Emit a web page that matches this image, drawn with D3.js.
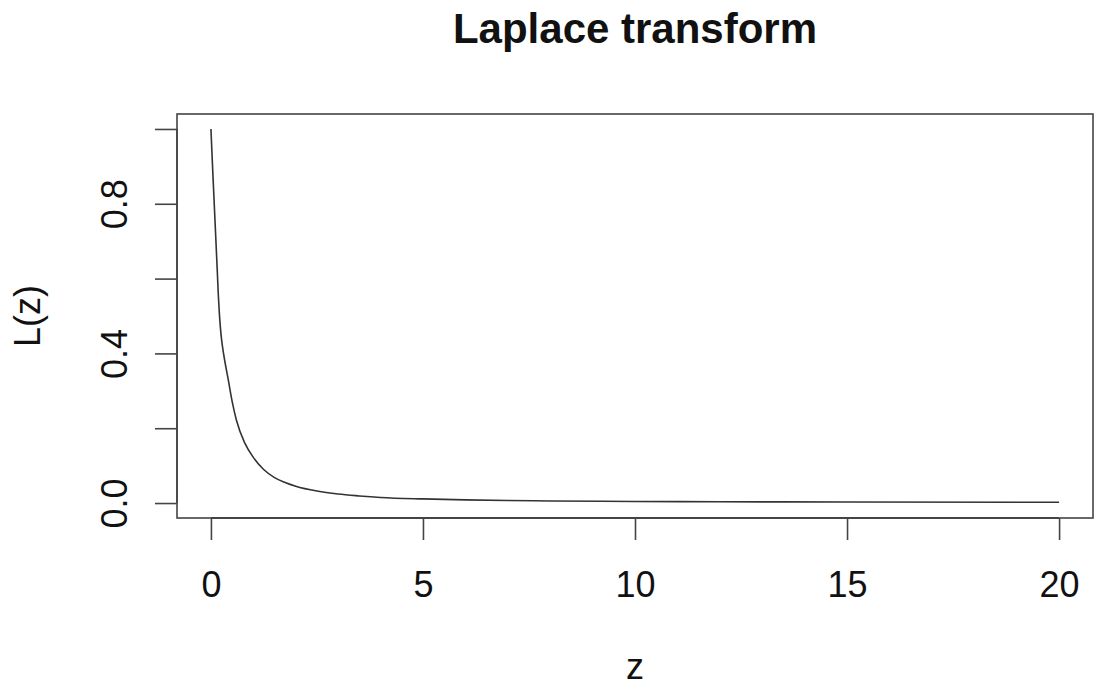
<!DOCTYPE html>
<html>
<head>
<meta charset="utf-8">
<script src="https://cdn.jsdelivr.net/npm/d3@7"></script>
<style>
  html, body { margin: 0; padding: 0; background: #fff; }
  svg { display: block; }
  text { font-family: "Liberation Sans", Arial, Helvetica, sans-serif; fill: #111; }
</style>
</head>
<body>
<svg id="chart" width="1094" height="688"></svg>
<script>
// Sampled points of the transform L(z)
const zValues = [0, 0.05, 0.1, 0.15, 0.175, 0.2, 0.225, 0.25, 0.3, 0.35, 0.4, 0.5, 0.6, 0.8, 1.0, 1.25, 1.5, 1.75, 2, 2.5, 3, 3.5, 4, 5, 6, 7, 8, 10, 12, 15, 20];
const lValues = [1.0, 0.87, 0.745, 0.62, 0.555, 0.505, 0.467, 0.438, 0.398, 0.365, 0.335, 0.272, 0.222, 0.16, 0.122, 0.089, 0.068, 0.055, 0.045, 0.032, 0.024, 0.019, 0.015, 0.011, 0.0085, 0.0068, 0.0056, 0.0043, 0.0035, 0.0027, 0.002];
const xTicks = [0, 5, 10, 15, 20];
const yTicks = [0, 0.2, 0.4, 0.6, 0.8, 1.0];
const yTickLabels = ["0.0", "", "0.4", "", "0.8", ""];

const svg = d3.select("#chart");
const box = { left: 177, right: 1093, top: 114, bottom: 518 };

// R-style 4% padding around the data range
const x = d3.scaleLinear().domain([-0.8, 20.8]).range([box.left, box.right]);
const y = d3.scaleLinear().domain([-0.04, 1.04]).range([box.bottom, box.top]);

const axisColor = "#444";
const fontSize = 36;

// Plot frame
svg.append("rect")
  .attr("x", box.left).attr("y", box.top)
  .attr("width", box.right - box.left).attr("height", box.bottom - box.top)
  .attr("fill", "none").attr("stroke", axisColor).attr("stroke-width", 1.6);

// X axis
const xAxis = d3.axisBottom(x).tickValues(xTicks).tickSize(22).tickPadding(0).tickFormat(d3.format("d"));
const gx = svg.append("g").attr("transform", `translate(0,${box.bottom})`).call(xAxis);
gx.select(".domain").attr("d", `M${x(0)},0H${x(20)}`).attr("stroke", axisColor).attr("stroke-width", 2.2);
gx.selectAll(".tick line").attr("stroke", axisColor).attr("stroke-width", 1.6);
gx.selectAll(".tick text")
  .attr("y", 79).attr("dy", null)
  .attr("font-size", fontSize)
  .style("font-family", '"Liberation Sans", Arial, sans-serif')
  .attr("fill", "#111");

// Y axis
const yAxis = d3.axisLeft(y).tickValues(yTicks).tickSize(22).tickFormat((d, i) => yTickLabels[i]);
const gy = svg.append("g").attr("transform", `translate(${box.left},0)`).call(yAxis);
gy.select(".domain").attr("d", `M0,${y(0)}V${y(1)}`).attr("stroke", axisColor).attr("stroke-width", 1.6);
gy.selectAll(".tick line").attr("stroke", axisColor).attr("stroke-width", 1.6);
gy.selectAll(".tick text")
  .attr("x", null).attr("dy", null)
  .attr("transform", "translate(-50,0) rotate(-90)")
  .attr("text-anchor", "middle")
  .attr("font-size", fontSize)
  .style("font-family", '"Liberation Sans", Arial, sans-serif')
  .attr("fill", "#111");

// Curve
const line = d3.line()
  .x((d, i) => x(zValues[i]))
  .y(d => y(d))
  .curve(d3.curveMonotoneX);

svg.append("path")
  .datum(lValues)
  .attr("d", line)
  .attr("fill", "none")
  .attr("stroke", "#333")
  .attr("stroke-width", 1.6);

// Title and axis labels
svg.append("text")
  .attr("x", (box.left + box.right) / 2).attr("y", 43)
  .attr("text-anchor", "middle")
  .attr("font-size", 42).attr("font-weight", "bold")
  .text("Laplace transform");

svg.append("text")
  .attr("x", (box.left + box.right) / 2).attr("y", 679)
  .attr("text-anchor", "middle")
  .attr("font-size", fontSize)
  .text("z");

svg.append("text")
  .attr("transform", `translate(40,${(box.top + box.bottom) / 2}) rotate(-90)`)
  .attr("text-anchor", "middle")
  .attr("font-size", fontSize)
  .text("L(z)");
</script>
</body>
</html>
